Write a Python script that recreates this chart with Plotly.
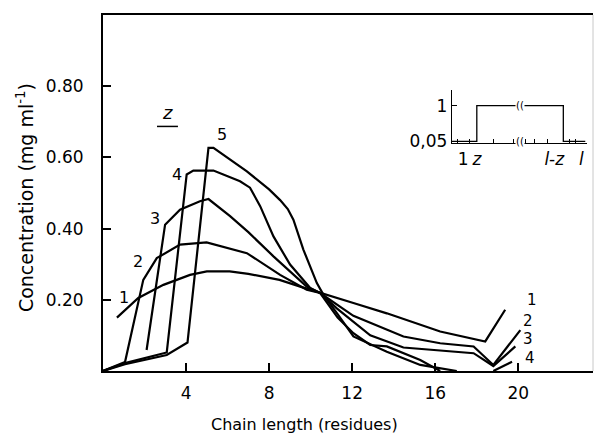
import plotly.graph_objects as go

# ---- data ----
c1_x = [0.67, 1.70, 2.91, 4.19, 5.0, 6.1, 7.0, 8.5, 9.5, 10.46, 12.06, 13.67, 16.24, 18.41, 19.37]
c1_y = [0.150, 0.205, 0.242, 0.270, 0.280, 0.280, 0.273, 0.256, 0.237, 0.219, 0.191, 0.162, 0.111, 0.083, 0.172]

c2_x = [0, 1.06, 1.94, 2.59, 3.71, 4.99, 6.93, 8.53, 9.81, 10.46, 12.06, 14.47, 16.24, 17.85, 18.8, 20.1]
c2_y = [0, 0.025, 0.256, 0.317, 0.355, 0.361, 0.331, 0.270, 0.228, 0.219, 0.155, 0.097, 0.078, 0.069, 0.017, 0.115]

c3_x = [2.1, 2.99, 3.71, 4.67, 5.08, 6.12, 7.0, 8.21, 9.81, 10.46, 11.26, 12.87, 14.47, 16.24, 17.85, 18.8, 19.86]
c3_y = [0.059, 0.411, 0.453, 0.477, 0.483, 0.435, 0.39, 0.322, 0.237, 0.219, 0.176, 0.10, 0.066, 0.058, 0.050, 0.014, 0.069]

c4_x = [0, 1.06, 3.07, 4.03, 4.35, 5.32, 6.6, 7.08, 7.57, 8.21, 9.01, 9.98, 10.46, 11.3, 12.06, 12.87, 13.67, 15.28, 16.24, None, 18.8, 19.7]
c4_y = [0, 0.022, 0.052, 0.552, 0.563, 0.563, 0.533, 0.515, 0.463, 0.378, 0.299, 0.233, 0.219, 0.15, 0.106, 0.073, 0.069, 0.031, 0.0, None, 0.0, 0.026]

c5_x = [0, 1.06, 3.07, 4.07, 5.08, 5.32, 6.93, 8.0, 8.53, 8.9, 9.17, 9.65, 10.3, 10.62, 11.3, 12.06, 13.67, 15.28, 17.04]
c5_y = [0, 0.019, 0.045, 0.08, 0.627, 0.627, 0.561, 0.51, 0.48, 0.455, 0.425, 0.341, 0.247, 0.214, 0.16, 0.097, 0.054, 0.017, 0.0]

curves = [(c1_x, c1_y), (c2_x, c2_y), (c3_x, c3_y), (c4_x, c4_y), (c5_x, c5_y)]

x_ticks = [4, 8, 12, 16, 20]
y_ticks = [0.2, 0.4, 0.6, 0.8]
y_ticklabels = ["0.20", "0.40", "0.60", "0.80"]

left_labels = ["1", "2", "3", "4", "5"]
left_label_x = [1.01, 1.70, 2.51, 3.55, 5.75]
left_label_y = [0.206, 0.308, 0.427, 0.552, 0.665]
right_labels = ["1", "2", "3", "4"]
right_label_x = [20.66, 20.48, 20.48, 20.58]
right_label_y = [0.200, 0.140, 0.090, 0.037]

# inset: weighting profile
inset_x = [0, 1.85, 1.85, 8.27, 8.27, 9.9]
inset_y = [0.05, 0.05, 1, 1, 0.05, 0.05]
inset_tickvals = [0.84, 1.87, 7.6, 9.6]
inset_ticktext = ["1", "<i>z</i>", "<i>l</i>-<i>z</i>", "<i>l</i>"]
inset_minor = [0.4, 1.3, 3.1, 4.6, 5.5, 6.1, 7.1, 8.7, 9.2]

FONT = "DejaVu Sans"

fig = go.Figure()
for cx, cy in curves:
    fig.add_trace(go.Scatter(x=cx, y=cy, mode="lines", line=dict(color="black", width=2.2),
                             showlegend=False, hoverinfo="skip", connectgaps=False))

fig.add_trace(go.Scatter(x=inset_x, y=inset_y, mode="lines", line=dict(color="black", width=1.3),
                         xaxis="x2", yaxis="y2", showlegend=False, hoverinfo="skip"))

ann = []
for t, x, y in zip(left_labels, left_label_x, left_label_y):
    ann.append(dict(x=x, y=y, text=t, showarrow=False, font=dict(size=16, color="black", family=FONT)))
for t, x, y in zip(right_labels, right_label_x, right_label_y):
    ann.append(dict(x=x, y=y, text=t, showarrow=False, font=dict(size=15, color="black", family=FONT)))
ann.append(dict(x=3.13, y=0.725, text="<i>z</i>", showarrow=False, font=dict(size=18, color="black", family=FONT)))
# break marks in inset
ann.append(dict(x=5.06, y=1, xref="x2", yref="y2", text="((", showarrow=False,
                font=dict(size=10, color="black", family=FONT), bgcolor="white", borderpad=0))
ann.append(dict(x=5.06, y=0.05, xref="x2", yref="y2", text="((", showarrow=False,
                font=dict(size=10, color="black", family=FONT), bgcolor="white", borderpad=0))
# axis titles
ann.append(dict(x=0.412, y=-0.149, xref="paper", yref="paper", xanchor="center", yanchor="middle",
                text="Chain length (residues)", showarrow=False,
                font=dict(size=16, color="black", family=FONT)))
ann.append(dict(x=-0.159, y=0.486, xref="paper", yref="paper", xanchor="center", yanchor="middle",
                text="Concentration (mg ml<sup>-1</sup>)", textangle=-90, showarrow=False,
                font=dict(size=19, color="black", family=FONT)))

shapes = [
    dict(type="line", xref="x", yref="y", x0=2.6, x1=3.61, y0=0.687, y1=0.687,
         line=dict(color="black", width=1.5)),
    dict(type="line", xref="paper", yref="paper", x0=1, x1=1, y0=0, y1=1,
         line=dict(color="#c8c8c8", width=1)),
]

fig.update_layout(
    width=599, height=434,
    margin=dict(l=103, r=6, t=15, b=63),
    paper_bgcolor="white", plot_bgcolor="white",
    font=dict(family=FONT, color="black", size=17),
    annotations=ann, shapes=shapes,
    xaxis=dict(range=[0, 23.6], tickvals=x_ticks, ticks="inside", ticklen=8, tickwidth=1.5,
               tickcolor="black", showline=True, linecolor="black", linewidth=2, mirror=True,
               showgrid=False, zeroline=False, ticklabelstandoff=6,
               tickfont=dict(size=17, family=FONT)),
    yaxis=dict(range=[0, 1.0], tickvals=y_ticks, ticktext=y_ticklabels, ticks="inside", ticklen=8,
               tickwidth=1.5, tickcolor="black", showline=True, linecolor="black", linewidth=2,
               showgrid=False, zeroline=False, ticklabelstandoff=14,
               tickfont=dict(size=17, family=FONT)),
    xaxis2=dict(domain=[0.712, 0.987], anchor="y2", range=[0, 10], tickvals=inset_tickvals,
                ticktext=inset_ticktext, ticks="", showline=True, linecolor="black", linewidth=1.3,
                showgrid=False, zeroline=False, tickfont=dict(size=17, family=FONT),
                minor=dict(tickvals=inset_minor, ticks="inside", ticklen=4, tickcolor="black")),
    yaxis2=dict(domain=[0.64, 0.79], anchor="x2", range=[0, 1.42], tickvals=[0.05, 1],
                ticktext=["0,05", "1"], ticks="inside", ticklen=5, tickcolor="black",
                showline=True, linecolor="black", linewidth=1.3, showgrid=False, zeroline=False,
                tickfont=dict(size=17, family=FONT)),
)

fig.write_html("out.html")
